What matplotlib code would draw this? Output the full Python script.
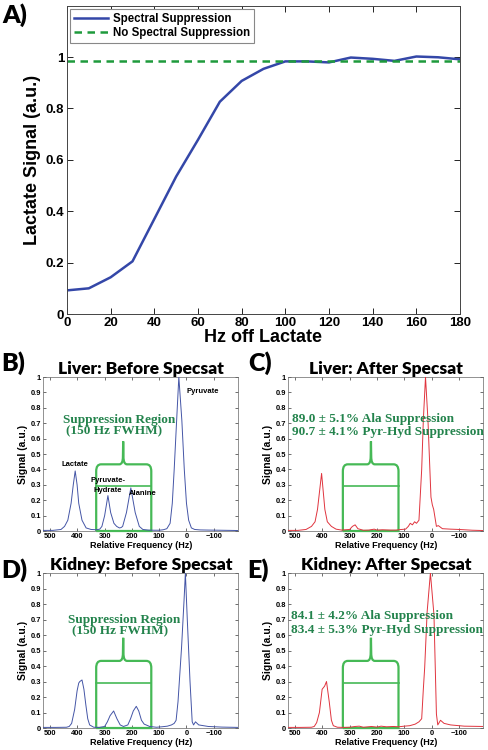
import matplotlib
matplotlib.use("Agg")
import matplotlib.pyplot as plt
from matplotlib.path import Path
from matplotlib.patches import PathPatch

# ---- panel A: lactate signal vs offset ----
hz_off = [0, 10, 20, 30, 40, 50, 60, 70, 80, 90, 100, 110, 120, 130, 140, 150, 160, 170, 180]
spec_supp = [0.092, 0.100, 0.143, 0.205, 0.370, 0.535, 0.678, 0.826, 0.907, 0.954, 0.983,
             0.983, 0.979, 0.998, 0.993, 0.985, 1.002, 0.999, 0.991]
no_supp = 0.983

# ---- spectra (relative frequency in Hz, normalized signal) ----
liver_pre_hz = [525, 490, 460, 447, 435, 423, 415, 408, 401, 395, 383, 368, 350, 330, 318, 310,
                300, 288, 278, 266, 256, 246, 240, 234, 220, 204, 188, 173, 160, 140, 120, 100,
                85, 72, 60, 52, 45, 36, 28, 17, 8, 0, -8, -18, -30, -50, -80, -120, -160, -190]
liver_pre = [0.004, 0.004, 0.010, 0.030, 0.070, 0.180, 0.300, 0.390, 0.300, 0.180, 0.070, 0.020,
             0.010, 0.008, 0.012, 0.030, 0.100, 0.230, 0.120, 0.050, 0.030, 0.020, 0.022, 0.030,
             0.120, 0.280, 0.120, 0.030, 0.010, 0.006, 0.005, 0.005, 0.008, 0.015, 0.050, 0.180,
             0.400, 0.720, 1.000, 0.720, 0.400, 0.180, 0.070, 0.020, 0.010, 0.007, 0.006, 0.005,
             0.004, 0.003]

liver_post_hz = [525, 490, 460, 440, 427, 418, 403, 391, 382, 367, 350, 330, 300, 290, 280, 270,
                 250, 230, 210, 200, 180, 150, 130, 110, 95, 85, 78, 70, 62, 55, 46, 36, 30, 22,
                 13, 6, 2, -3, -8, -18, -25, -40, -70, -100, -150, -190]
liver_post = [0.004, 0.004, 0.010, 0.030, 0.060, 0.140, 0.374, 0.140, 0.060, 0.030, 0.012, 0.006,
              0.010, 0.030, 0.040, 0.015, 0.005, 0.006, 0.012, 0.006, 0.008, 0.006, 0.006, 0.010,
              0.012, 0.030, 0.050, 0.040, 0.060, 0.050, 0.070, 0.400, 0.720, 1.000, 0.720, 0.400,
              0.220, 0.170, 0.140, 0.030, 0.035, 0.015, 0.012, 0.010, 0.005, 0.003]

kidney_pre_hz = [525, 480, 440, 430, 421, 410, 401, 395, 391, 383, 376, 369, 362, 355, 340, 320,
                 300, 290, 280, 267, 255, 243, 231, 215, 205, 195, 184, 175, 165, 155, 148, 135,
                 110, 90, 70, 55, 45, 38, 31, 18, 9, 4, -3, -13, -21, -26, -33, -45, -80, -130, -190]
kidney_pre = [0.004, 0.004, 0.005, 0.010, 0.030, 0.120, 0.240, 0.290, 0.300, 0.310, 0.250, 0.150,
              0.060, 0.020, 0.005, 0.004, 0.010, 0.040, 0.080, 0.110, 0.060, 0.020, 0.010, 0.020,
              0.060, 0.110, 0.140, 0.110, 0.050, 0.025, 0.020, 0.010, 0.005, 0.008, 0.012, 0.020,
              0.030, 0.050, 0.170, 0.520, 0.820, 1.000, 0.700, 0.300, 0.040, 0.020, 0.040, 0.020,
              0.010, 0.006, 0.004]

kidney_post_hz = [525, 480, 440, 430, 421, 411, 401, 392, 385, 375, 367, 360, 345, 320, 300, 280,
                  265, 250, 220, 200, 185, 165, 140, 120, 100, 80, 60, 46, 36, 30, 25, 16, 4, -9,
                  -18, -23, -33, -46, -70, -120, -190]
kidney_post = [0.004, 0.004, 0.005, 0.010, 0.035, 0.100, 0.250, 0.270, 0.300, 0.170, 0.050, 0.015,
               0.005, 0.004, 0.005, 0.010, 0.012, 0.005, 0.010, 0.006, 0.012, 0.008, 0.010, 0.008,
               0.012, 0.015, 0.025, 0.040, 0.060, 0.250, 0.390, 0.750, 1.000, 0.730, 0.090, 0.020,
               0.050, 0.030, 0.020, 0.012, 0.010]

freq_ticks = [500, 400, 300, 200, 100, 0, -100]
freq_ticklabels = ["500", "400", "300", "200", "100", "0", "\u2212100"]
sig_ticks = [0, 0.1, 0.2, 0.3, 0.4, 0.5, 0.6, 0.7, 0.8, 0.9, 1]
sig_ticklabels = ["0", "0.1", "0.2", "0.3", "0.4", "0.5", "0.6", "0.7", "0.8", "0.9", "1"]

# suppression bracket: (high-Hz edge, low-Hz edge, centre), bar level, top level, spike tip
bracket_pre = (331, 129, 232)
bracket_post = (325, 121, 222)
bracket_levels = (0.292, 0.433, 0.582)

BLUE = "#4455a6"
RED = "#e0343e"
GREEN_BOX = "#46b956"
GREEN_TXT = "#23834c"
SANS = "Liberation Sans"
TITLE = "Lato"
SERIF = "Liberation Serif"

fig = plt.figure(figsize=(4.89, 7.5), dpi=100)

# ---------------- panel A ----------------
axA = fig.add_axes([0.137, 0.5813, 0.8037, 0.4112])
axA.plot(hz_off, spec_supp, color="#3447a8", lw=1.8, label="Spectral Suppression")
axA.axhline(no_supp, color="#1e9a3c", lw=1.8, ls=(0, (3, 2.2)), label="No Spectral Suppression")
axA.set_xlim(0, 180)
axA.set_ylim(0, 1.2)
axA.set_xticks(range(0, 181, 20))
axA.set_yticks([0, 0.2, 0.4, 0.6, 0.8, 1])
axA.set_yticklabels(["0", "0.2", "0.4", "0.6", "0.8", "1"])
axA.tick_params(direction="in", length=4, width=0.6, top=True, right=True, labelsize=9.5, pad=2)
for lab in axA.get_xticklabels() + axA.get_yticklabels():
    lab.set_fontfamily(SANS)
    lab.set_fontweight("bold")
axA.set_xlabel("Hz off Lactate", fontsize=13, fontweight="bold", family=SANS, labelpad=0)
axA.set_ylabel("Lactate Signal (a.u.)", fontsize=13, fontweight="bold", family=SANS, labelpad=3)
for s in axA.spines.values():
    s.set_linewidth(0.7)
    s.set_color("#444444")
leg = axA.legend(loc="upper left", handlelength=3.0, borderpad=0.3, labelspacing=0.25,
                 handletextpad=0.4, fancybox=False, edgecolor="#888888", framealpha=1,
                 prop={"family": SANS, "weight": "bold", "size": 8.3}, borderaxespad=0.3)
leg.get_frame().set_linewidth(0.8)
fig.text(2 / 489, 1 - 3 / 750, "A)", fontsize=18, fontweight="heavy", family=TITLE, va="top")


def bracket(ax, edges, levels):
    hi, lo, mid = edges
    bar, top, tip = levels
    r_x, r_y = 18, 0.045
    verts = [(hi, 0), (hi, top - r_y), (hi, top), (hi - r_x, top), (mid + 14, top),
             (mid + 1, top), (mid + 1, top + 0.05), (mid, tip), (mid - 1, top + 0.05),
             (mid - 1, top), (mid - 14, top), (lo + r_x, top), (lo, top), (lo, top - r_y),
             (lo, 0), (hi, 0)]
    codes = [Path.MOVETO, Path.LINETO, Path.CURVE3, Path.CURVE3, Path.LINETO,
             Path.CURVE3, Path.CURVE3, Path.LINETO, Path.LINETO,
             Path.CURVE3, Path.CURVE3, Path.LINETO, Path.CURVE3, Path.CURVE3,
             Path.LINETO, Path.LINETO]
    ax.add_patch(PathPatch(Path(verts, codes), facecolor="none", edgecolor=GREEN_BOX, lw=1.6,
                           zorder=3, clip_on=False))
    ax.plot([hi, lo], [bar, bar], color=GREEN_BOX, lw=1.2, zorder=3)


def spectrum(rect, hz, sig, color, title, edges):
    ax = fig.add_axes(rect)
    ax.plot(hz, sig, color=color, lw=0.7, zorder=4)
    ax.set_xlim(525, -190)
    ax.set_ylim(0, 1)
    ax.set_xticks(freq_ticks)
    ax.set_xticklabels(freq_ticklabels)
    ax.set_yticks(sig_ticks)
    ax.set_yticklabels(sig_ticklabels)
    ax.tick_params(direction="in", length=2, width=0.4, top=True, right=True, labelsize=5.4, pad=1.5)
    for lab in ax.get_xticklabels() + ax.get_yticklabels():
        lab.set_fontfamily(SANS)
        lab.set_fontweight("bold")
    for s in ax.spines.values():
        s.set_linewidth(0.5)
        s.set_color("#666666")
    ax.set_ylabel("Signal (a.u.)", fontsize=7.5, fontweight="bold", family=SANS, labelpad=2)
    ax.set_xlabel("Relative Frequency (Hz)", fontsize=6.5, fontweight="bold", family=SANS,
                  labelpad=0.5)
    ax.set_title(title, fontsize=12.5, fontweight="heavy", family=TITLE, pad=2)
    bracket(ax, edges, bracket_levels)
    return ax


axB = spectrum([0.0885, 0.292, 0.3988, 0.2053], liver_pre_hz, liver_pre, BLUE,
               "Liver: Before Specsat", bracket_pre)
axC = spectrum([0.5896, 0.292, 0.3988, 0.2053], liver_post_hz, liver_post, RED,
               "Liver: After Specsat", bracket_post)
axD = spectrum([0.0885, 0.0293, 0.3988, 0.2067], kidney_pre_hz, kidney_pre, BLUE,
               "Kidney: Before Specsat", bracket_pre)
axE = spectrum([0.5896, 0.0293, 0.3988, 0.2067], kidney_post_hz, kidney_post, RED,
               "Kidney: After Specsat", bracket_post)

letter_kw = dict(fontsize=18, fontweight="heavy", family=TITLE, va="top")
fig.text(1 / 489, 1 - 351 / 750, "B)", **letter_kw)
fig.text(248 / 489, 1 - 351 / 750, "C)", **letter_kw)
fig.text(1 / 489, 1 - 558 / 750, "D)", **letter_kw)
fig.text(247 / 489, 1 - 558 / 750, "E)", **letter_kw)

# peak labels in panel B
lab_kw = dict(fontsize=5.5, fontweight="bold", family=SANS, ha="center", va="center", zorder=5)
axB.text(409, 0.43, "Lactate", **lab_kw)
axB.text(289, 0.296, "Pyruvate-\nHydrate", linespacing=1.6, **lab_kw)
axB.text(160, 0.242, "Alanine", **lab_kw)
axB.text(-59, 0.907, "Pyruvate", **lab_kw)

txt_kw = dict(fontsize=9.5, fontweight="bold", family=SERIF, color=GREEN_TXT, va="center", ha="left",
              zorder=5)
axB.text(452, 0.72, "Suppression Region", **txt_kw)
axB.text(442, 0.647, "(150 Hz FWHM)", **txt_kw)
axD.text(434, 0.70, "Suppression Region", **txt_kw)
axD.text(421, 0.625, "(150 Hz FWHM)", **txt_kw)
axC.text(513, 0.73, "89.0 \u00b1 5.1% Ala Suppression", **txt_kw)
axC.text(513, 0.643, "90.7 \u00b1 4.1% Pyr-Hyd Suppression", **txt_kw)
axE.text(515, 0.72, "84.1 \u00b1 4.2% Ala Suppression", **txt_kw)
axE.text(515, 0.63, "83.4 \u00b1 5.3% Pyr-Hyd Suppression", **txt_kw)

fig.savefig("out.png", dpi=100)
